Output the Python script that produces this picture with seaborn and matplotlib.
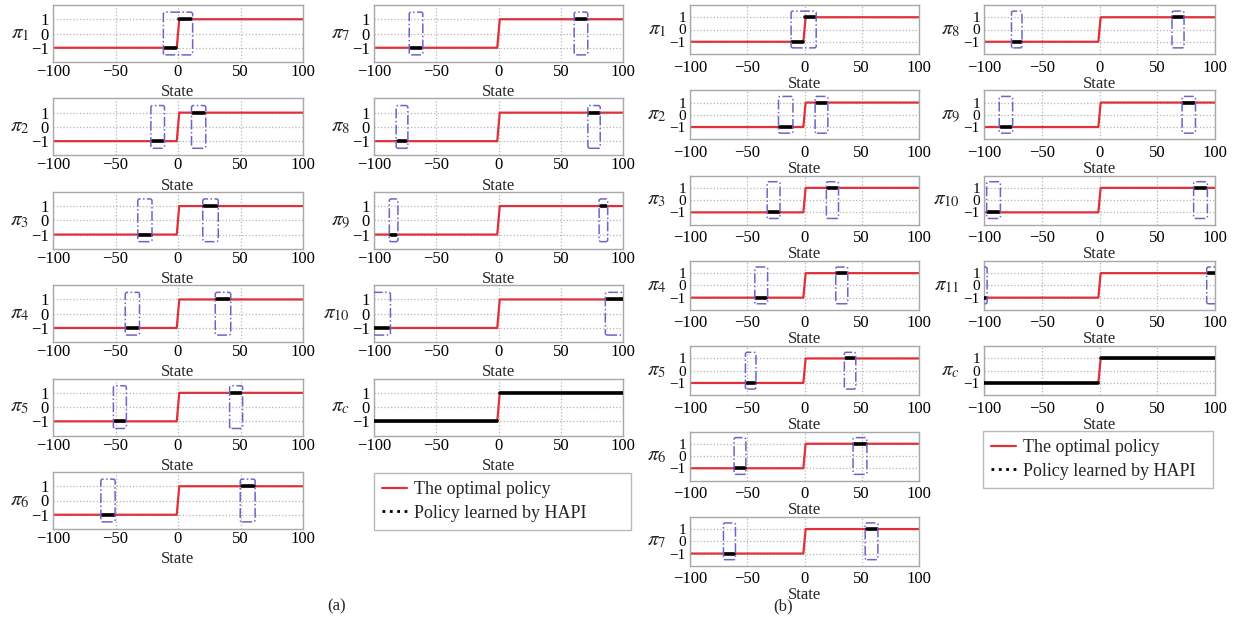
import numpy as np
import pandas as pd
import matplotlib
matplotlib.use("Agg")
import matplotlib.pyplot as plt
from matplotlib.patches import FancyBboxPatch
from matplotlib.lines import Line2D
import seaborn as sns

# ---------------- data ----------------
states = [-100, -1, 1, 100]
optimal_action = [-1, -1, 1, 1]
x_ticks = [-100, -50, 0, 50, 100]
y_ticks = [-1, 0, 1]
y_tick_labels = ["\u22121", "0", "1"]

# panel (a): sub-policies pi_1..pi_10 and composite pi_c
a_names = ["1", "2", "3", "4", "5", "6", "7", "8", "9", "10", "c"]
a_neg = [(-10.5, -1.5), (-20.5, -12), (-31, -22), (-41, -32), (-50.5, -42.5),
         (-60.5, -51.5), (-70.5, -62), (-81, -74), (-86.5, -82), (-100, -88),
         (-100, -1)]
a_pos = [(0.5, 10.5), (12, 21), (21, 31), (31, 41), (42.5, 50.5),
         (51, 60.5), (62, 70.5), (73, 80.5), (82, 86.5), (87, 100),
         (1, 100)]

# panel (b): sub-policies pi_1..pi_11 and composite pi_c
b_names = ["1", "2", "3", "4", "5", "6", "7", "8", "9", "10", "11", "c"]
b_neg = [(-10.5, -1.7), (-21.5, -11.3), (-31.4, -22.6), (-42.2, -33.4),
         (-50.4, -43.6), (-60.3, -52.4), (-69.6, -61.5), (-75, -68.3),
         (-85.6, -76.4), (-96.5, -87), (-100, -98.5), (-100, -1)]
b_pos = [(0.3, 9), (10.5, 19.2), (20.3, 28.5), (28.5, 36.6), (36, 43.6),
         (43.6, 53.3), (54.2, 62.9), (64, 72), (72.7, 81.9), (82.7, 92.2),
         (94, 100), (1, 100)]

legend_labels = ["The optimal policy", "Policy learned by HAPI"]

# ---------------- style ----------------
sns.set_theme(style="white")
plt.rcParams["font.family"] = ["Liberation Serif", "DejaVu Serif"]
plt.rcParams["mathtext.fontset"] = "stix"
plt.rcParams["axes.unicode_minus"] = True

RED = "#e0303a"
BOX = "#6e64c8"
GRID = "#b5b5b5"
SPINE = "#a8a8a8"

W, H = 1245, 626
fig = plt.figure(figsize=(W / 100, H / 100), dpi=100)
fig.patch.set_facecolor("white")


def make_axes(left, top, width, height):
    return fig.add_axes([left / W, 1 - (top + height) / H, width / W, height / H])


def draw_panel(ax, name, neg, pos, width_px, height_px, composite, style):
    sns.lineplot(x=states, y=optimal_action, ax=ax, color=RED, linewidth=1.6,
                 estimator=None, sort=False, legend=False, zorder=2)
    for (x0, x1), v in ((neg, -1), (pos, 1)):
        sns.lineplot(x=[x0, x1], y=[v, v], ax=ax, color="black", linewidth=2.6,
                     estimator=None, sort=False, legend=False, zorder=3)
    if not composite:
        pad = 1.2
        boxes = [[neg[0] - pad, neg[1] + pad], [pos[0] - pad, pos[1] + pad]]
        if boxes[0][1] >= boxes[1][0]:
            boxes = [[boxes[0][0], boxes[1][1]]]
        aspect = (width_px / 200) / (height_px / 4)
        for b0, b1 in boxes:
            patch = FancyBboxPatch((b0, -1.5), b1 - b0, 3.0,
                                   boxstyle="round,pad=0,rounding_size=1.6",
                                   mutation_aspect=aspect, fill=False,
                                   edgecolor=BOX, linewidth=1.1, linestyle="-.",
                                   zorder=4, clip_on=True)
            ax.add_patch(patch)
    ax.set_xlim(-100, 100)
    ax.set_ylim(-2, 2)
    ax.set_xticks(x_ticks)
    ax.set_xticklabels([str(t).replace("-", "\u2212") for t in x_ticks])
    ax.set_yticks(y_ticks)
    ax.set_yticklabels(y_tick_labels)
    ax.tick_params(axis="both", length=0, colors="black")
    ax.tick_params(axis="x", pad=style["xpad"], labelsize=12)
    ax.tick_params(axis="y", pad=3, labelsize=style["ysize"])
    ax.grid(True, color=GRID, linestyle=":", linewidth=0.9)
    for s in ax.spines.values():
        s.set_color(SPINE)
        s.set_linewidth(1.0)
    ax.set_xlabel("State", fontsize=12, labelpad=style["labelpad"])
    ax.set_ylabel("")


def place_column(names, negs, poss, left, width, top0, step, height, style):
    for i, (nm, ng, ps) in enumerate(zip(names, negs, poss)):
        top = top0 + step * i
        ax = make_axes(left, top, width, height)
        draw_panel(ax, nm, ng, ps, width, height, nm == "c", style)
        fig.text((left - 24) / W, 1 - (top + height / 2) / H,
                 r"$\pi_{%s}$" % nm, ha="right", va="center", fontsize=15)


style_a = {"xpad": 1.5, "labelpad": 3, "ysize": 12}
style_b = {"xpad": 4.0, "labelpad": 0, "ysize": 11}

# panel (a)
place_column(a_names[:6], a_neg[:6], a_pos[:6], 53, 250, 5, 93.4, 57, style_a)
place_column(a_names[6:], a_neg[6:], a_pos[6:], 374, 249, 5, 93.4, 57, style_a)
# panel (b)
place_column(b_names[:7], b_neg[:7], b_pos[:7], 690, 229, 5, 85.3, 49, style_b)
place_column(b_names[7:], b_neg[7:], b_pos[7:], 984, 231, 5, 85.3, 49, style_b)

handles = [Line2D([], [], color=RED, linewidth=1.6),
           Line2D([], [], color="black", linewidth=2.0, linestyle=":")]


def add_legend(x0, y0, w):
    leg = fig.legend(handles, legend_labels, loc="upper left",
                     bbox_to_anchor=(x0 / W, 1 - y0 / H, w / W, 0.0001),
                     mode="expand", borderaxespad=0, fontsize=13, frameon=True,
                     fancybox=False, edgecolor=SPINE, handlelength=1.4,
                     handletextpad=0.35, borderpad=0.45, labelspacing=0.36)
    leg.get_frame().set_linewidth(1.0)
    return leg


add_legend(374, 473, 257)
add_legend(983, 431, 230)

fig.text(337 / W, 1 - 606 / H, "(a)", ha="center", va="center", fontsize=12)
fig.text(783 / W, 1 - 606 / H, "(b)", ha="center", va="center", fontsize=12)

fig.savefig("out.png", dpi=100, facecolor="white")
